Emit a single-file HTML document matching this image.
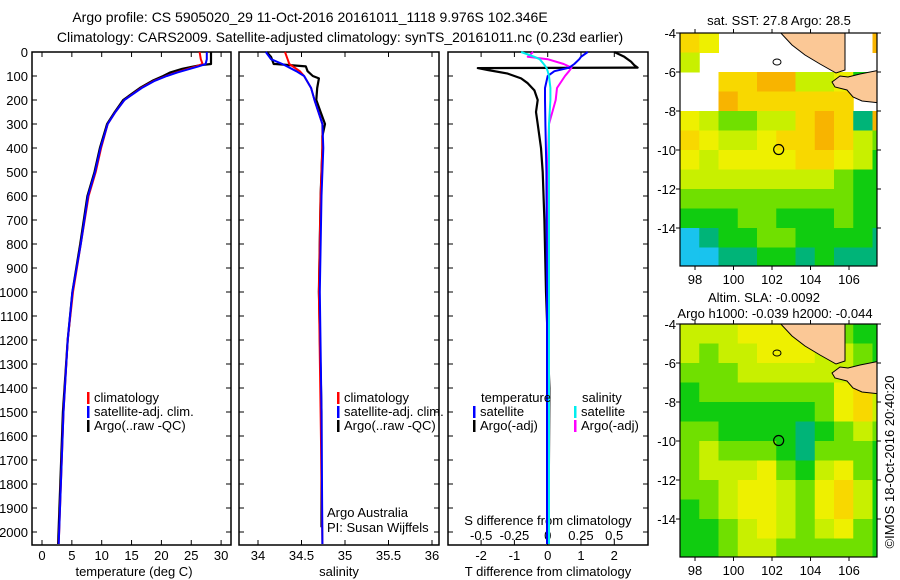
<!DOCTYPE html>
<html><head><meta charset="utf-8"><style>
body{margin:0;background:#fff;}
svg{display:block;font-family:"Liberation Sans",sans-serif;}
text{font-size:13px;fill:#000;}
</style></head><body>
<svg id="fig" width="900" height="580" viewBox="0 0 900 580" xmlns="http://www.w3.org/2000/svg">
<text x="310" y="22" text-anchor="middle" style="font-size:14px">Argo profile: CS 5905020_29 11-Oct-2016 20161011_1118 9.976S 102.346E</text>
<text x="340" y="42" text-anchor="middle" style="font-size:14px">Climatology: CARS2009. Satellite-adjusted climatology: synTS_20161011.nc (0.23d earlier)</text>
<text x="779" y="25" text-anchor="middle">sat. SST: 27.8 Argo: 28.5</text>
<text x="764" y="302" text-anchor="middle">Altim. SLA: -0.0092</text>
<text x="775" y="318" text-anchor="middle">Argo h1000: -0.039 h2000: -0.044</text>
<text transform="translate(894,462) rotate(-90)" text-anchor="middle">©IMOS 18-Oct-2016 20:40:20</text>
<g id="g"></g>
</svg>
<script>
// ---- data ----
const depthTicks=[0,100,200,300,400,500,600,700,800,900,1000,1100,1200,1300,1400,1500,1600,1700,1800,1900,2000];
const tTicks=[0,5,10,15,20,25,30];
const sTicks=[34,34.5,35,35.5,36];
const dTTicks=[-2,-1,0,1,2];
const dSTicks=[-0.5,-0.25,0,0.25,0.5];
const dSTickLabels=["-0.5","-0.25","0","0.25","0.5"];
// temperature
const tArgoZ=[0,50,55,62,70,85,100,120,150,200,250,300,400,500,600,800,1000,1200,1500,2050];
const tArgo=[28.3,28.3,26.5,25.0,23.5,21.5,20.3,18.5,16.4,13.6,12.2,10.9,9.7,8.8,7.6,6.4,5.1,4.3,3.5,2.7];
const tClimZ=[0,30,50,60,70,85,100,120,150,200,250,300,400,500,600,800,1000,1200,1500,2050];
const tClim=[26.4,26.6,26.9,25.8,24.5,22.5,20.8,18.8,16.6,13.8,12.3,11.0,9.9,9.0,7.8,6.5,5.2,4.3,3.6,2.8];
const tSat=[27.6,27.6,27.4,26.2,24.8,22.7,20.9,18.9,16.7,13.8,12.3,11.0,9.8,8.9,7.7,6.5,5.1,4.3,3.6,2.8];
// salinity
const sArgoZ=[0,20,50,50,60,80,100,110,150,200,250,300,350,400,600,1000,1500,1980];
const sArgo=[34.1,34.15,34.18,34.2,34.55,34.57,34.63,34.7,34.68,34.67,34.72,34.77,34.74,34.74,34.72,34.7,34.73,34.73];
const sClimZ=[0,30,50,80,100,150,200,300,400,600,1000,1500,2050];
const sClim=[34.31,34.34,34.36,34.48,34.53,34.61,34.65,34.74,34.74,34.72,34.7,34.72,34.74];
const sSat=[34.09,34.15,34.28,34.44,34.53,34.61,34.65,34.74,34.75,34.73,34.71,34.73,34.74];
// differences
const dTArgoZ=[0,20,40,55,65,67,75,90,110,130,160,200,250,300,400,500,700,1000,1400,2050];
const dTArgo=[2.0,2.3,2.5,2.6,2.7,-2.1,-1.8,-1.2,-0.8,-0.6,-0.4,-0.3,-0.35,-0.3,-0.2,-0.15,-0.1,-0.05,0.05,0.02];
const dZ=[0,20,30,50,65,80,100,150,200,300,500,1000,2050];
const dTSat=[1.2,1.0,0.95,0.8,0.65,0.2,0.0,-0.08,-0.08,-0.07,-0.04,-0.02,-0.02];
const dSArgo=[-0.11,-0.15,0.0,0.12,0.18,0.16,0.13,0.07,0.06,0.01,0.0,0.0,0.0];
const dSSat=[-0.2,-0.1,-0.06,-0.03,-0.01,0.0,0.01,0.02,0.02,0.01,0.01,0.01,0.01];
// maps (1-degree cells, rows -4..-16, cols 97.2..107.45); -1 missing
const sstGrid=[
[6,5,-1,-1,-1,-1,-1,-1,-1,-1,7],
[4,-1,-1,-1,-1,-1,-1,-1,-1,-1,-1],
[-1,-1,6,6,7,7,4,4,5,2,-1],
[-1,-1,7,6,6,6,6,6,6,-1,-1],
[5,4,3,3,4,4,6,7,6,1,7],
[6,5,4,4,5,6,6,7,6,4,3],
[5,4,5,5,5,5,6,6,5,4,2],
[4,4,4,4,4,4,4,4,3,2,2],
[3,3,3,3,3,3,3,3,3,2,2],
[2,2,2,3,3,2,2,2,3,2,2],
[0,1,2,2,3,3,2,2,2,2,1],
[0,0,1,1,2,2,1,2,1,1,1]];
const slaGrid=[
[4,4,4,5,5,5,5,3,3,2,2],
[4,3,4,4,5,5,5,4,4,3,2],
[3,3,3,4,4,4,4,4,4,3,3],
[2,3,3,3,3,3,3,3,5,6,4],
[2,2,2,2,2,2,2,3,5,6,4],
[3,3,2,2,2,2,1,2,3,4,3],
[3,4,3,3,3,2,1,3,3,3,2],
[3,4,4,4,5,3,2,4,5,3,2],
[3,3,4,5,5,4,3,5,6,4,2],
[2,3,4,5,5,4,3,5,6,4,2],
[2,2,3,4,5,4,3,4,5,3,2],
[2,2,3,4,4,3,3,3,3,3,2]];
const palette=["#19c3ee","#00b478","#10cc10","#70e000","#c8f000","#eef000","#f8d800","#f8b400","#d06000"];
const latTicks=[-4,-6,-8,-10,-12,-14];
const lonTicks=[98,100,102,104,106];
const argoLon=102.346, argoLat=-9.976;

// ---- helpers ----
const NS="http://www.w3.org/2000/svg";
const G=document.getElementById('g');
function mk(tag,attrs,parent){const e=document.createElementNS(NS,tag);for(const k in attrs)e.setAttribute(k,attrs[k]);(parent||G).appendChild(e);return e;}
const top0=52, pxPerM=0.24, bot=545;
const yD=d=>top0+d*pxPerM;
const xT=t=>42+t*5.97;
const xS=s=>258+(s-34)*87;
const xDT=v=>547.7+v*33.3;
const xDS=v=>547.7+v*133;
const panels=[[32,231],[239,439],[448,648]];

panels.forEach((p,i)=>{
  const r=mk('rect',{x:p[0],y:top0,width:p[1]-p[0],height:bot-top0,fill:'none',stroke:'#000','stroke-width':1.5});
  
  
  depthTicks.forEach(d=>{
    mk('line',{x1:p[0],x2:p[0]+5,y1:yD(d),y2:yD(d),stroke:'#000'});
    mk('line',{x1:p[1],x2:p[1]-5,y1:yD(d),y2:yD(d),stroke:'#000'});
  });
});
depthTicks.forEach(d=>{
  const t=mk('text',{x:28,y:yD(d)+5,'text-anchor':'end'});t.textContent=d;
  
  
});
function xticks(vals,labels,fx,ty,panel,name){
  vals.forEach((v,i)=>{
    const x=fx(v);
    mk('line',{x1:x,x2:x,y1:bot,y2:bot-5,stroke:'#000'});
    mk('line',{x1:x,x2:x,y1:top0,y2:top0+5,stroke:'#000'});
    const t=mk('text',{x:x,y:ty,'text-anchor':'middle'});t.textContent=labels[i];
    
    
  });
}
xticks(tTicks,tTicks,xT,560,0,'temperature-tick-label');
xticks(sTicks,sTicks,xS,560,1,'salinity-tick-label');
xticks(dTTicks,dTTicks,xDT,560,2,'t-diff-tick-label');
dSTicks.forEach((v,i)=>{
  const t=mk('text',{x:xDS(v),y:540,'text-anchor':'middle'});t.textContent=dSTickLabels[i];
  
  
});
function label(x,y,s,name,anchor){const t=mk('text',{x:x,y:y,'text-anchor':anchor||'middle'});t.textContent=s;
  
  return t;}
label(134,576,'temperature (deg C)','x-axis-title-temperature');
label(339,576,'salinity','x-axis-title-salinity');
label(548,576,'T difference from climatology','x-axis-title-t-diff');
label(548,525,'S difference from climatology','x-axis-title-s-diff');
label(327,517,'Argo Australia','argo-australia-note','start');
label(327,532,'PI: Susan Wijffels','pi-note','start');

function line(zs,vs,fx,color,w,name){
  const pts=zs.map((z,i)=>fx(vs[i]).toFixed(1)+','+yD(z).toFixed(1)).join(' ');
  const e=mk('polyline',{points:pts,fill:'none',stroke:color,'stroke-width':w,'stroke-linejoin':'round'});
  
  
}
line(tArgoZ,tArgo,xT,'#000',2.2,'temp-argo-line');
line(tClimZ,tClim,xT,'#f00',2,'temp-climatology-line');
line(tClimZ,tSat,xT,'#00f',2,'temp-satellite-line');
line(sArgoZ,sArgo,xS,'#000',2.2,'sal-argo-line');
line(sClimZ,sClim,xS,'#f00',2,'sal-climatology-line');
line(sClimZ,sSat,xS,'#00f',2,'sal-satellite-line');
line(dTArgoZ,dTArgo,xDT,'#000',2.2,'tdiff-argo-line');
line(dZ,dSArgo,xDS,'#f0f',2,'sdiff-argo-line');
line(dZ,dTSat,xDT,'#00f',2,'tdiff-satellite-line');
line(dZ,dSSat,xDS,'#0ee',2,'sdiff-satellite-line');

function legend(x,y,color,s,name){
  mk('rect',{x:x,y:y-10,width:2.5,height:12,fill:color});
  const t=mk('text',{x:x+7,y:y});t.textContent=s;
  
  
}
legend(87,402,'#f00','climatology','legend-climatology');
legend(87,416,'#00f','satellite-adj. clim.','legend-satellite');
legend(87,430,'#000','Argo(..raw -QC)','legend-argo');
legend(337,402,'#f00','climatology','legend-climatology-2');
legend(337,416,'#00f','satellite-adj. clim.','legend-satellite-2');
legend(337,430,'#000','Argo(..raw -QC)','legend-argo-2');
label(481,402,'temperature','legend-temperature-header','start');
label(582,402,'salinity','legend-salinity-header','start');
legend(473,416,'#00f','satellite','legend-t-satellite');
legend(473,430,'#000','Argo(-adj)','legend-t-argo');
legend(574,416,'#0ee','satellite','legend-s-satellite');
legend(574,430,'#f0f','Argo(-adj)','legend-s-argo');

// ---- maps ----
function map(grid,topY,name,idx){
  const L=680,R=877,lon0=97.22,pxLon=19.25,pxLat=19.5,B=topY+233;
  const xL=lo=>L+(lo-lon0)*pxLon, yL=la=>topY+(-4-la)*pxLat;
  const cid='clip'+idx;
  const cp=mk('clipPath',{id:cid});mk('rect',{x:L,y:topY,width:R-L,height:B-topY},cp);
  const g=mk('g',{'clip-path':'url(#'+cid+')'});
  
  
  grid.forEach((row,r)=>row.forEach((v,c)=>{
    if(v<0)return;
    mk('rect',{x:xL(lon0+c),y:yL(-4-r),width:pxLon+0.5,height:pxLat+0.5,fill:palette[v]},g);
  }));
  const dy=topY-33;
  const sum=mk('polygon',{points:[[778,30],[845,30],[845,70],[836,73],[820,64],[805,55],[792,45]].map(p=>p[0]+','+(p[1]+dy)).join(' '),fill:'#fbc896',stroke:'#000','stroke-width':1},g);
  
  
  const jav=mk('polygon',{points:[[832,82],[840,76],[848,77],[860,74],[880,70],[880,103],[862,101],[853,97],[847,90],[835,87]].map(p=>p[0]+','+(p[1]+dy)).join(' '),fill:'#fbc896',stroke:'#000','stroke-width':1},g);
  
  
  mk('ellipse',{cx:777,cy:62+dy,rx:4,ry:3,fill:'none',stroke:'#000'},g);
  const fr=mk('rect',{x:L,y:topY,width:R-L,height:B-topY,fill:'none',stroke:'#000','stroke-width':1.2});
  
  
  const mkr=mk('circle',{cx:xL(argoLon),cy:yL(argoLat),r:5,fill:'none',stroke:'#000','stroke-width':1.2});
  
  
  latTicks.forEach(la=>{
    const y=yL(la);
    mk('line',{x1:L-4,x2:L,y1:y,y2:y,stroke:'#000'});
    mk('line',{x1:R,x2:R+4,y1:y,y2:y,stroke:'#000'});
    const t=mk('text',{x:L-4,y:y+5,'text-anchor':'end'});t.textContent=la;
    
    
  });
  lonTicks.forEach(lo=>{
    const x=xL(lo);
    mk('line',{x1:x,x2:x,y1:topY-4,y2:topY,stroke:'#000'});
    mk('line',{x1:x,x2:x,y1:B,y2:B+4,stroke:'#000'});
    const t=mk('text',{x:x,y:B+18,'text-anchor':'middle'});t.textContent=lo;
    
    
  });
}
map(sstGrid,33,'sst-map',1);
map(slaGrid,324,'sla-map',2);
</script>
</body></html>
